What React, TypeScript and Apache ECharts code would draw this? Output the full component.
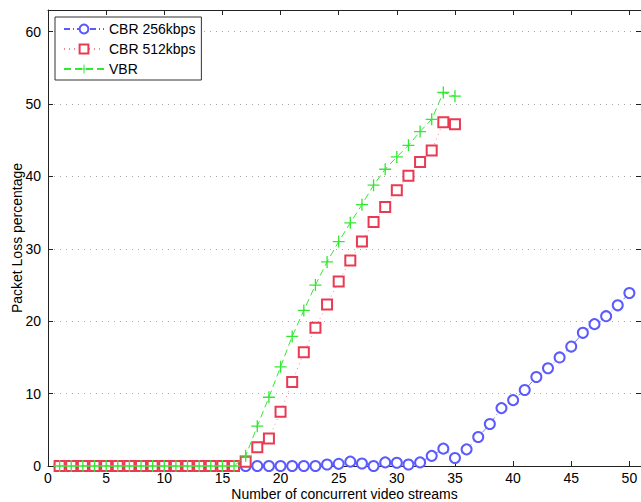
import React, { useEffect, useRef } from "react";
import * as echarts from "echarts";

const xBlue = Array.from({ length: 50 }, (_, i) => i + 1);
const xOther = Array.from({ length: 35 }, (_, i) => i + 1);

const cbr256 = [
  0, 0, 0, 0, 0, 0, 0, 0, 0, 0,
  0, 0, 0, 0, 0, 0, 0, 0, 0, 0,
  0, 0, 0, 0.2, 0.3, 0.6, 0.35, 0.0, 0.5, 0.45,
  0.2, 0.5, 1.4, 2.4, 1.1, 2.3, 4.0, 5.8, 8.0, 9.1,
  10.5, 12.3, 13.5, 15.0, 16.5, 18.4, 19.6, 20.7, 22.2, 23.9,
];
const cbr512 = [
  0, 0, 0, 0, 0, 0, 0, 0, 0, 0,
  0, 0, 0, 0, 0, 0, 0.6, 2.6, 3.8, 7.5,
  11.6, 15.7, 19.1, 22.3, 25.5, 28.4, 31.0, 33.7, 35.8, 38.1,
  40.1, 42.0, 43.6, 47.5, 47.2,
];
const vbr = [
  0, 0, 0, 0, 0, 0, 0, 0, 0, 0,
  0, 0, 0, 0, 0, 0, 1.4, 5.5, 9.5, 13.7,
  17.9, 21.5, 25.0, 28.2, 31.0, 33.6, 36.1, 38.8, 41.0, 42.7,
  44.3, 46.2, 47.9, 51.6, 51.1,
];
const seriesNames = ["CBR 256kbps", "CBR 512kbps", "VBR"];
const xTitle = "Number of concurrent video streams";
const yTitle = "Packet Loss percentage";

const FONT = "'Liberation Sans', Arial, Helvetica, sans-serif";
const BLUE = "#5a5aff";
const RED = "#ea3a52";
const GREEN = "#33e833";
const PLUS = "path://M4.45,0 H5.55 V4.45 H10 V5.55 H5.55 V10 H4.45 V5.55 H0 V4.45 H4.45 Z";

export default function App() {
  const ref = useRef<HTMLDivElement>(null);
  useEffect(() => {
    if (!ref.current) return;
    const chart = echarts.init(ref.current, null, { renderer: "svg" });
    const axisLineStyle = { color: "#222", width: 1 };
    chart.setOption({
      animation: false,
      backgroundColor: "#fff",
      textStyle: { fontFamily: FONT },
      grid: { left: 48, top: 10, right: 0, bottom: 36, containLabel: false, outerBoundsMode: "none" },
      legend: {
        left: 55,
        top: 17,
        orient: "vertical",
        padding: [5, 6, 4, 8],
        itemWidth: 40,
        itemHeight: 11,
        itemGap: 6,
        borderColor: "#333",
        borderWidth: 1,
        borderRadius: 0,
        backgroundColor: "#fff",
        textStyle: { fontFamily: FONT, fontSize: 14, color: "#000" },
        data: seriesNames,
      },
      xAxis: [
        {
          type: "value",
          min: 0,
          max: 51,
          interval: 5,
          position: "bottom",
          name: xTitle,
          nameLocation: "middle",
          nameGap: 28,
          nameMoveOverlap: false,
          nameTextStyle: { fontFamily: FONT, fontSize: 14, color: "#000", verticalAlign: "middle" },
          axisLine: { show: true, onZero: false, lineStyle: axisLineStyle },
          axisTick: { show: true, inside: true, length: 5, lineStyle: { color: "#222" } },
          axisLabel: { fontFamily: FONT, fontSize: 14, color: "#000", margin: 5, showMaxLabel: false },
          splitLine: { show: false },
        },
        {
          type: "value",
          min: 0,
          max: 51,
          interval: 5,
          position: "top",
          axisLine: { show: true, onZero: false, lineStyle: axisLineStyle },
          axisTick: { show: true, inside: true, length: 5, lineStyle: { color: "#222" } },
          axisLabel: { show: false },
          splitLine: { show: false },
        },
      ],
      yAxis: [
        {
          type: "value",
          min: 0,
          max: 63,
          interval: 10,
          position: "left",
          name: yTitle,
          nameLocation: "middle",
          nameGap: 31,
          nameMoveOverlap: false,
          nameTextStyle: { fontFamily: FONT, fontSize: 14, color: "#000", verticalAlign: "middle" },
          axisLine: { show: true, onZero: false, lineStyle: axisLineStyle },
          axisTick: { show: true, inside: true, length: 5, lineStyle: { color: "#222" } },
          axisLabel: { fontFamily: FONT, fontSize: 14, color: "#000", margin: 7, showMaxLabel: false },
          splitLine: { show: true, lineStyle: { color: "#aaa", type: [1, 5], width: 1 } },
        },
        {
          type: "value",
          min: 0,
          max: 63,
          interval: 10,
          position: "right",
          axisLine: { show: true, onZero: false, lineStyle: axisLineStyle },
          axisTick: { show: true, inside: true, length: 5, lineStyle: { color: "#222" } },
          axisLabel: { show: false },
          splitLine: { show: false },
        },
      ],
      series: [
        {
          name: seriesNames[0],
          type: "line",
          data: xBlue.map((x, i) => [x, cbr256[i]]),
          symbol: "emptyCircle",
          symbolSize: 10,
          lineStyle: { color: BLUE, width: 0.8, type: [6, 3, 1, 3] },
          itemStyle: { color: BLUE, borderColor: BLUE, borderWidth: 0.7 },
          z: 2,
        },
        {
          name: seriesNames[1],
          type: "line",
          data: xOther.map((x, i) => [x, cbr512[i]]),
          symbol: "emptyRect",
          symbolSize: 10,
          lineStyle: { color: RED, width: 1, type: [1, 4], opacity: 0.6 },
          itemStyle: { color: RED, borderColor: RED, borderWidth: 0.9 },
          z: 3,
        },
        {
          name: seriesNames[2],
          type: "line",
          data: xOther.map((x, i) => [x, vbr[i]]),
          symbol: PLUS,
          symbolSize: 12,
          lineStyle: { color: GREEN, width: 1, type: [7, 4] },
          itemStyle: { color: GREEN },
          z: 4,
        },
      ],
    });
    return () => chart.dispose();
  }, []);
  return (
    <div
      ref={ref}
      style={{ position: "fixed", left: 0, top: 0, width: 641, height: 502, background: "#fff" }}
    />
  );
}
